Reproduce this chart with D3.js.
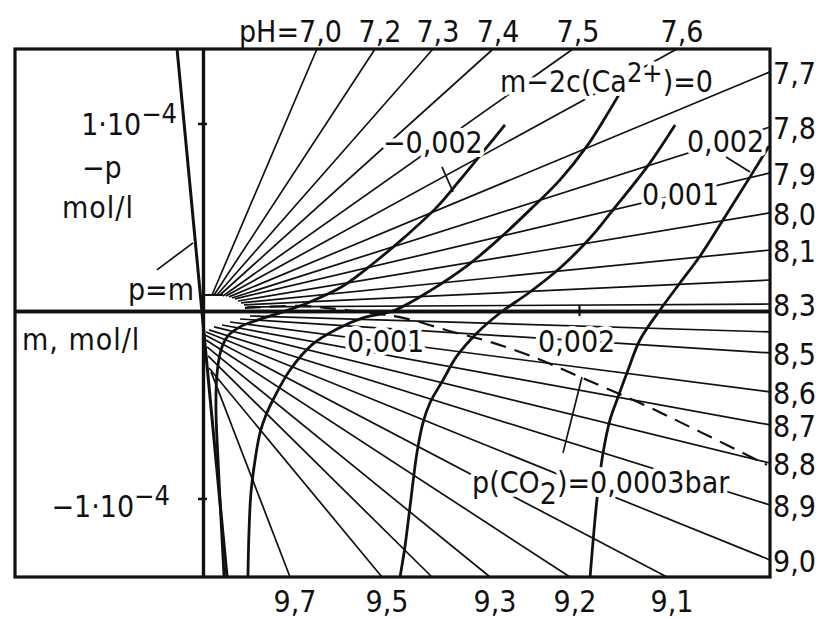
<!DOCTYPE html>
<html>
<head>
<meta charset="utf-8">
<script src="https://cdn.jsdelivr.net/npm/d3@7"></script>
<style>
  body { margin: 0; background: #fff; }
  svg text {
    font-family: "DejaVu Sans Condensed", "DejaVu Sans", sans-serif;
    font-stretch: condensed;
    font-size: 30px;
    fill: #111;
  }
  .halo { paint-order: stroke; stroke: #fff; stroke-width: 8px; stroke-linejoin: round; }
</style>
</head>
<body>
<div id="chart"></div>
<script>
"use strict";

// units: m in mmol/l, -p in 1e-4 mol/l
const mDomain = [-1.0, 3.016];
const pDomain = [-1.419, 1.397];
const pTicks = [1, -1];
const mTicks = [2];

// lines of constant pH, [m, -p] at both ends ("" = not labelled)
const phLines = [
  { ph: "7,0", from: [0.048, 0.085], to: [0.606, 1.397] },
  { ph: "7,2", from: [0.059, 0.085], to: [0.915, 1.397] },
  { ph: "7,3", from: [0.074, 0.085], to: [1.223, 1.397] },
  { ph: "7,4", from: [0.090, 0.085], to: [1.543, 1.397] },
  { ph: "7,5", from: [0.106, 0.080], to: [1.968, 1.397] },
  { ph: "7,6", from: [0.122, 0.080], to: [2.521, 1.397] },
  { ph: "7,7", from: [0.138, 0.075], to: [3.016, 1.275] },
  { ph: "7,8", from: [0.154, 0.069], to: [3.016, 0.981] },
  { ph: "7,9", from: [0.170, 0.064], to: [3.016, 0.736] },
  { ph: "8,0", from: [0.186, 0.053], to: [3.016, 0.523] },
  { ph: "8,1", from: [0.202, 0.043], to: [3.016, 0.325] },
  { ph: "",    from: [0.218, 0.032], to: [3.016, 0.165] },
  { ph: "8,3", from: [0.234, 0.021], to: [3.016, 0.037] },
  { ph: "",    from: [0.250, -0.027], to: [3.016, -0.112] },
  { ph: "8,5", from: [0.197, -0.043], to: [3.016, -0.224] },
  { ph: "8,6", from: [0.144, -0.059], to: [3.016, -0.432] },
  { ph: "8,7", from: [0.101, -0.075], to: [3.016, -0.608] },
  { ph: "8,8", from: [0.059, -0.085], to: [3.016, -0.811] },
  { ph: "8,9", from: [0.032, -0.101], to: [3.016, -1.035] },
  { ph: "9,0", from: [0.016, -0.112], to: [3.016, -1.328] },
  { ph: "9,1", from: [0.011, -0.128], to: [2.468, -1.419] },
  { ph: "9,2", from: [0.016, -0.155], to: [1.952, -1.419] },
  { ph: "9,3", from: [0.021, -0.192], to: [1.527, -1.419] },
  { ph: "",    from: [0.027, -0.240], to: [1.218, -1.419] },
  { ph: "9,5", from: [0.032, -0.304], to: [0.952, -1.419] },
  { ph: "9,7", from: [0.043, -0.325], to: [0.463, -1.419] }
];

// m - 2c(Ca2+) = const curves
const caMinus002 = [
  [0.112, -1.419], [0.096, -1.115], [0.080, -0.795], [0.069, -0.528], [0.074, -0.341],
  [0.096, -0.208], [0.133, -0.133], [0.197, -0.085], [0.293, -0.048], [0.426, -0.005],
  [0.569, 0.048], [0.745, 0.133], [0.915, 0.261], [1.074, 0.395], [1.245, 0.555],
  [1.367, 0.699], [1.489, 0.848], [1.606, 0.992]
];
const caZero = [
  [0.239, -1.419], [0.245, -1.168], [0.255, -0.971], [0.277, -0.795], [0.303, -0.651],
  [0.335, -0.555], [0.372, -0.475], [0.463, -0.315], [0.585, -0.176], [0.713, -0.096],
  [0.851, -0.037], [1.011, 0.000], [1.207, 0.107], [1.404, 0.240], [1.580, 0.389],
  [1.739, 0.539], [1.899, 0.699], [2.043, 0.880], [2.138, 1.029], [2.218, 1.163]
];
const caPlus001 = [
  [1.048, -1.419], [1.074, -1.259], [1.101, -1.045], [1.138, -0.757], [1.170, -0.597],
  [1.207, -0.491], [1.277, -0.368], [1.351, -0.240], [1.463, -0.112], [1.580, -0.011],
  [1.739, 0.101], [1.899, 0.229], [2.059, 0.389], [2.181, 0.539], [2.362, 0.768],
  [2.511, 0.992]
];
const caPlus002 = [
  [2.059, -1.419], [2.080, -1.168], [2.101, -0.955], [2.128, -0.757], [2.165, -0.581],
  [2.202, -0.475], [2.261, -0.315], [2.324, -0.155], [2.431, 0.005], [2.537, 0.149],
  [2.644, 0.293], [2.766, 0.485], [2.910, 0.715], [3.011, 0.880]
];

// p(CO2) = 0,0003 bar
const co2Line = [
  [0.223, 0.016], [0.516, 0.027], [0.702, 0.011], [0.888, -0.011], [1.064, -0.037],
  [1.330, -0.112], [1.527, -0.165], [1.755, -0.245], [2.005, -0.352], [2.324, -0.491],
  [2.644, -0.645], [3.000, -0.821]
];

// p = m
const pmLine = [[-0.138, 1.397], [0.128, -1.419]];
const originBar = [[0, 0.085], [0.106, 0.085]];

//------------------------------------------------------------
const svg = d3.select("#chart").append("svg")
    .attr("width", 816)
    .attr("height", 618);

const x = d3.scaleLinear().domain(mDomain).range([15, 770]);
const y = d3.scaleLinear().domain(pDomain).range([577, 49]);

const straight = d3.line().x(d => x(d[0])).y(d => y(d[1]));
const smooth = d3.line().x(d => x(d[0])).y(d => y(d[1]))
    .curve(d3.curveCatmullRom.alpha(0.5));

const ink = "#111";

// pH lines
svg.append("g").selectAll("line")
    .data(phLines)
    .join("line")
    .attr("x1", d => x(d.from[0]))
    .attr("y1", d => y(d.from[1]))
    .attr("x2", d => x(d.to[0]))
    .attr("y2", d => y(d.to[1]))
    .attr("stroke", ink)
    .attr("stroke-width", 1.7);

// calcite curves
svg.append("g").selectAll("path")
    .data([caMinus002, caZero, caPlus001, caPlus002])
    .join("path")
    .attr("d", smooth)
    .attr("fill", "none")
    .attr("stroke", ink)
    .attr("stroke-width", 2.8);

svg.append("path")
    .attr("d", smooth(co2Line))
    .attr("fill", "none")
    .attr("stroke", ink)
    .attr("stroke-width", 2.2)
    .attr("stroke-dasharray", "16,9");

svg.append("path")
    .attr("d", straight(pmLine))
    .attr("fill", "none")
    .attr("stroke", ink)
    .attr("stroke-width", 3);

svg.append("path")
    .attr("d", straight(originBar))
    .attr("stroke", ink)
    .attr("stroke-width", 2);

// labels inside the plot (white halo cuts the lines)
const inner = svg.append("g");
const note = (m, p, cls) => inner.append("text")
    .attr("x", x(m)).attr("y", y(p)).attr("class", cls || "halo");

note(0.957, 0.843).text("\u22120,002");
note(2.574, 0.848).text("0,002");
note(2.335, 0.565).text("0,001");
note(0.766, -0.219).text("0,001");
note(1.782, -0.219).text("0,002");

const caLab = note(1.580, 1.168);
caLab.append("tspan").text("m\u22122c(Ca");
caLab.append("tspan").attr("dy", -10).attr("font-size", 27).text("2+");
caLab.append("tspan").attr("dy", 10).text(")=0");

const co2Lab = note(1.431, -0.971);
co2Lab.append("tspan").text("p(CO");
co2Lab.append("tspan").attr("dy", 11).attr("font-size", 30).text("2");
co2Lab.append("tspan").attr("dy", -11).text(")=0,0003bar");

note(-0.399, 0.059).text("p=m");
note(-0.644, 0.709).text("\u2212p");
note(-0.750, 0.496).attr("letter-spacing", 1).text("mol/l");
note(-0.963, -0.208).attr("letter-spacing", 1).text("m, mol/l");

const tickLab = [
  { v: pTicks[0], m: -0.138, p: 0.939, txt: "1\u00b710" },
  { v: pTicks[1], m: -0.176, p: -1.099, txt: "\u22121\u00b710" }
];
tickLab.forEach(t => {
  const el = note(t.m, t.p, "plain").attr("text-anchor", "end");
  el.append("tspan").text(t.txt);
  el.append("tspan").attr("dy", -12).attr("font-size", 27).text("\u22124");
});

// axes through the origin
const yAxisL = d3.axisLeft(y).tickValues(pTicks).tickSize(5).tickSizeOuter(0).tickFormat(() => "");
const yAxisR = d3.axisRight(y).tickValues(pTicks).tickSize(4).tickSizeOuter(0).tickFormat(() => "");
const xAxisB = d3.axisBottom(x).tickValues(mTicks).tickSize(5).tickSizeOuter(0).tickFormat(() => "");
const xAxisT = d3.axisTop(x).tickValues(mTicks).tickSize(5).tickSizeOuter(0).tickFormat(() => "");

[yAxisL, yAxisR].forEach(a => {
  const g = svg.append("g").attr("transform", `translate(${x(0)},0)`).call(a);
  g.select(".domain").attr("stroke", ink).attr("stroke-width", 3.2);
  g.selectAll(".tick line").attr("stroke", ink).attr("stroke-width", 2.5);
});
[xAxisB, xAxisT].forEach(a => {
  const g = svg.append("g").attr("transform", `translate(0,${y(0)})`).call(a);
  g.select(".domain").attr("stroke", ink).attr("stroke-width", 3.5);
  g.selectAll(".tick line").attr("stroke", ink).attr("stroke-width", 2.2);
});

// frame
svg.append("rect")
    .attr("x", x(mDomain[0]))
    .attr("y", y(pDomain[1]))
    .attr("width", x(mDomain[1]) - x(mDomain[0]))
    .attr("height", y(pDomain[0]) - y(pDomain[1]))
    .attr("fill", "none")
    .attr("stroke", ink)
    .attr("stroke-width", 3.2);

// leaders
const leaders = [
  [[1.271, 0.768], [1.330, 0.635]],
  [[2.782, 0.821], [2.910, 0.741]],
  [[-0.245, 0.219], [-0.053, 0.363]],
  [[1.915, -0.757], [2.016, -0.352]]
];
svg.append("g").selectAll("path")
    .data(leaders)
    .join("path")
    .attr("d", straight)
    .attr("stroke", ink)
    .attr("stroke-width", 1.7);

// pH labels along the frame
const pTop = pDomain[1], mRight = mDomain[1];
const outer = svg.append("g");
phLines.filter(d => d.ph !== "").forEach(d => {
  if (d.to[1] >= pTop - 1e-6) {
    if (d.ph === "7,0") {
      outer.append("text").attr("x", x(d.to[0]) + 25).attr("y", 42)
          .attr("text-anchor", "end").text("pH=" + d.ph);
    } else {
      outer.append("text").attr("x", x(d.to[0]) + 5).attr("y", 42)
          .attr("text-anchor", "middle").text(d.ph);
    }
  } else if (d.to[0] >= mRight - 1e-6) {
    outer.append("text").attr("x", x(mRight) + 3).attr("y", y(d.to[1]) + 12).text(d.ph);
  } else {
    outer.append("text").attr("x", x(d.to[0]) + 5).attr("y", 612)
        .attr("text-anchor", "middle").text(d.ph);
  }
});
</script>
</body>
</html>
